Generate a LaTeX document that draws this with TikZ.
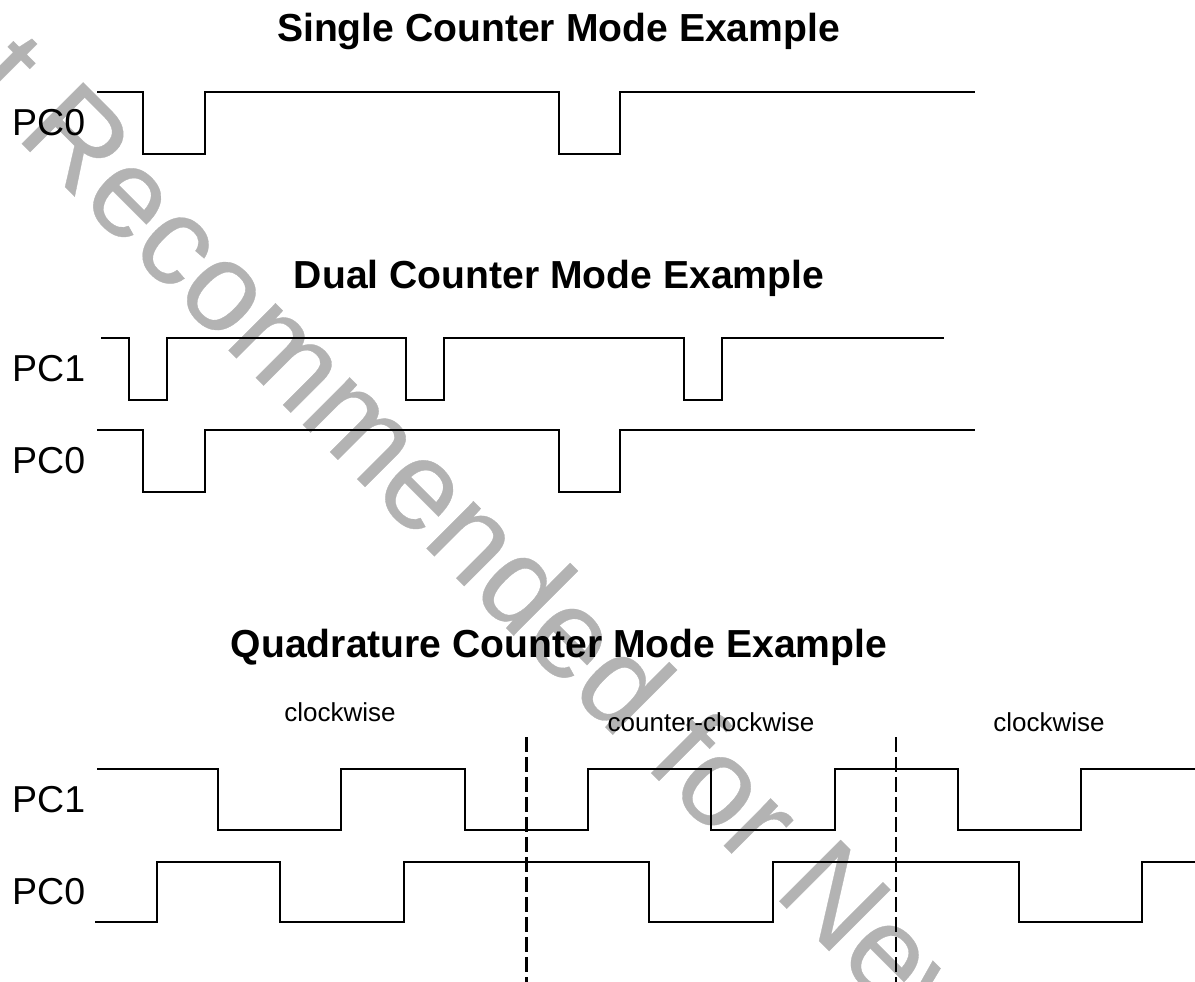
\documentclass[tikz,border=0pt]{standalone}
\usepackage{xcolor}
\usepackage{fontspec}
\setmainfont{Liberation Sans}
\newfontfamily\stampfont[FakeBold=0.25]{Liberation Sans}
\definecolor{stamp}{HTML}{B3B3B3}
\tikzset{
  wave/.style={line width=1.8pt,line join=miter},
  title/.style={font=\fontsize{39.1}{39}\selectfont\bfseries,anchor=base},
  pin/.style={font=\fontsize{37.5}{38}\selectfont,anchor=base west,inner sep=0pt},
  sense/.style={font=\fontsize{26}{27}\selectfont,anchor=base},
}

\begin{document}
\begin{tikzpicture}[x=1pt,y=-1pt]
  \useasboundingbox (0,0) rectangle (1195,982);
  \begin{scope}
    \clip (0,0) rectangle (1195,982);
    \node[rotate=-45,anchor=base west,inner sep=0pt,text=stamp,font=\fontsize{126}{126}\stampfont] (stamp) at (-149,-27) {Not Recommended for New};
  \end{scope}
  % single
  \node[title] (single) at (558.5,42) {Single Counter Mode Example};
  \node[pin] (pcA) at (12,135.5) {PC0};
  \draw[wave] (97,92) -- (143,92) -- (143,154) -- (205,154) -- (205,92) -- (559,92) -- (559,154) -- (620,154) -- (620,92) -- (975,92);
  % dual
  \node[title] (dual) at (559,288) {Dual Counter Mode Example};
  \node[pin] (pcB) at (12,381) {PC1};
  \draw[wave] (101,338) -- (129,338) -- (129,400) -- (167,400) -- (167,338) -- (406,338) -- (406,400) -- (444,400) -- (444,338) -- (684,338) -- (684,400) -- (722,400) -- (722,338) -- (944,338);
  \node[pin] (pcC) at (12,473) {PC0};
  \draw[wave] (97,430) -- (143,430) -- (143,492) -- (205,492) -- (205,430) -- (559,430) -- (559,492) -- (620,492) -- (620,430) -- (975,430);
  % quadrature
  \node[title] (quad) at (559,657) {Quadrature Counter Mode Example};
  \node[sense] (cwA) at (340,721) {clockwise};
  \node[sense] (ccw) at (711,731) {counter-clockwise};
  \node[sense] (cwB) at (1049,731) {clockwise};
  \node[pin] (pcD) at (12,812) {PC1};
  \draw[wave] (97,769) -- (218,769) -- (218,830) -- (341,830) -- (341,769) -- (465,769) -- (465,830) -- (588,830) -- (588,769) -- (711,769) -- (711,830) -- (835,830) -- (835,769) -- (958,769) -- (958,830) -- (1081,830) -- (1081,769) -- (1195,769);
  \node[pin] (pcE) at (12,904) {PC0};
  \draw[wave] (95,922) -- (157,922) -- (157,862) -- (280,862) -- (280,922) -- (404,922) -- (404,862) -- (649,862) -- (649,922) -- (773,922) -- (773,862) -- (1019,862) -- (1019,922) -- (1142,922) -- (1142,862) -- (1195,862);
  \coordinate (cutA) at (526,737);
  \coordinate (cutB) at (896,737);
  \draw[line width=3pt,dash pattern=on 15pt off 5pt] (cutA) -- (526,982);
  \draw[line width=1.8pt,dash pattern=on 15pt off 5pt] (cutB) -- (896,982);
\end{tikzpicture}
\end{document}
